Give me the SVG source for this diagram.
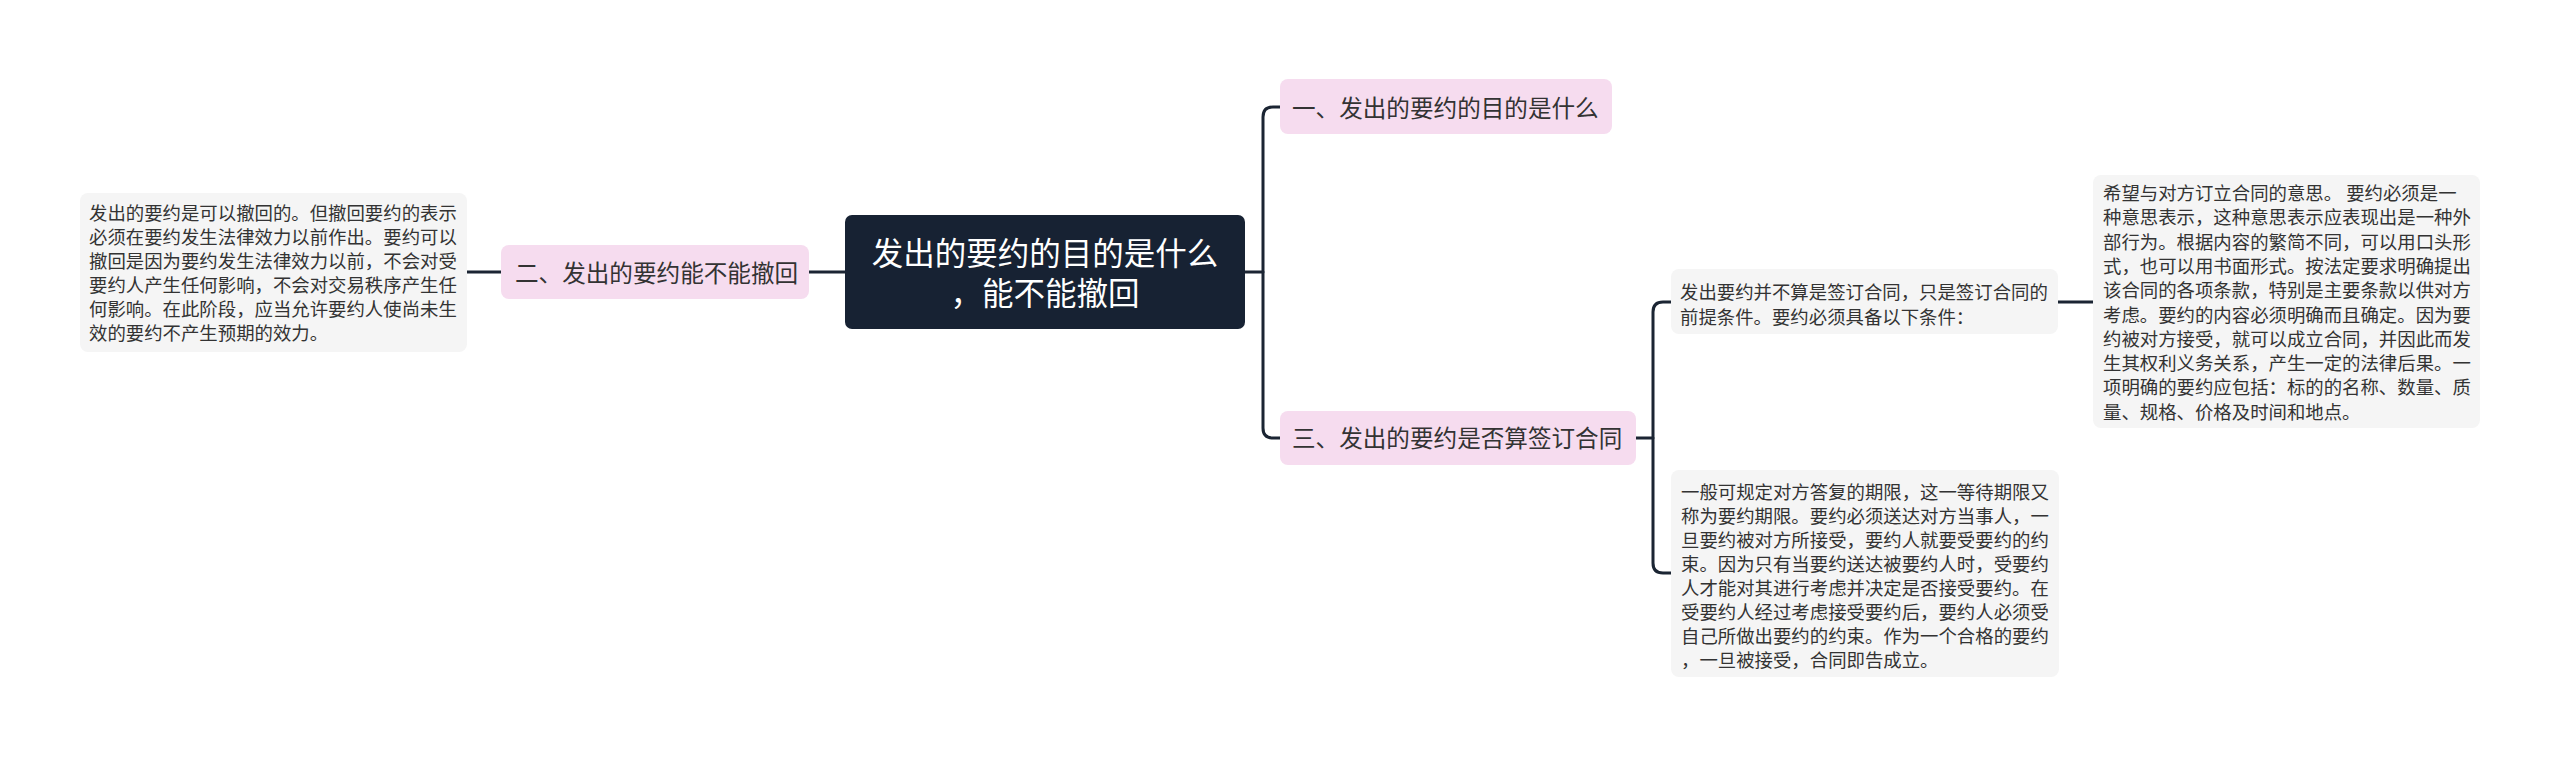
<svg xmlns="http://www.w3.org/2000/svg" width="2560" height="757" viewBox="0 0 2560 757">
<style>
.conn{fill:none;stroke:#1b2533;stroke-width:3;stroke-linecap:round}
.pink{fill:#f6dcef}
.leaf{fill:#f5f5f5}
.root{fill:#172233}
.t{font-family:"Noto Sans CJK SC","Noto Sans",sans-serif;fill:#333}
.pt{font-size:23.6px}
.lt{font-size:18.4px}
.rt{font-size:31.5px;fill:#ffffff}
</style>
<rect width="2560" height="757" fill="#ffffff"/>
<g id="connectors">
<path class="conn" d="M1245,272 H1263"/>
<path class="conn" d="M1280,107 H1273 Q1263,107 1263,117 V428 Q1263,438 1273,438 H1280"/>
<path class="conn" d="M845,272 H809"/>
<path class="conn" d="M501,272 H467"/>
<path class="conn" d="M1636,438 H1653"/>
<path class="conn" d="M1671,302 H1663 Q1653,302 1653,312 V563 Q1653,573 1663,573 H1671"/>
<path class="conn" d="M2058,302 H2093"/>
</g>
<g id="root">
<rect class="root" x="845" y="215" width="400" height="114" rx="7"/>
<text class="t rt" text-anchor="middle"><tspan x="1045" y="265">发出的要约的目的是什么</tspan><tspan x="1045" y="305">，能不能撤回</tspan></text>
</g>
<g id="n1">
<rect class="pink" x="1280" y="79" width="332" height="55" rx="8"/>
<text class="t pt" x="1292" y="117">一、发出的要约的目的是什么</text>
</g>
<g id="n2">
<rect class="pink" x="501" y="245" width="308" height="54" rx="8"/>
<text class="t pt" x="515" y="282">二、发出的要约能不能撤回</text>
</g>
<g id="n3">
<rect class="pink" x="1280" y="411" width="356" height="54" rx="8"/>
<text class="t pt" x="1292" y="447">三、发出的要约是否算签订合同</text>
</g>
<g id="leaf-left">
<rect class="leaf" x="80" y="193" width="387" height="159" rx="8"/>
<text class="t lt"><tspan x="89" y="220">发出的要约是可以撤回的。但撤回要约的表示</tspan><tspan x="89" y="244">必须在要约发生法律效力以前作出。要约可以</tspan><tspan x="89" y="268">撤回是因为要约发生法律效力以前，不会对受</tspan><tspan x="89" y="292">要约人产生任何影响，不会对交易秩序产生任</tspan><tspan x="89" y="316">何影响。在此阶段，应当允许要约人使尚未生</tspan><tspan x="89" y="340">效的要约不产生预期的效力。</tspan></text>
</g>
<g id="leaf-1">
<rect class="leaf" x="1671" y="269" width="387" height="65" rx="8"/>
<text class="t lt"><tspan x="1680" y="299">发出要约并不算是签订合同，只是签订合同的</tspan><tspan x="1680" y="324">前提条件。要约必须具备以下条件：</tspan></text>
</g>
<g id="leaf-1a">
<rect class="leaf" x="2093" y="175" width="387" height="253" rx="8"/>
<text class="t lt"><tspan x="2103" y="200">希望与对方订立合同的意思。 要约必须是一</tspan><tspan x="2103" y="224.3">种意思表示，这种意思表示应表现出是一种外</tspan><tspan x="2103" y="248.6">部行为。根据内容的繁简不同，可以用口头形</tspan><tspan x="2103" y="272.9">式，也可以用书面形式。按法定要求明确提出</tspan><tspan x="2103" y="297.2">该合同的各项条款，特别是主要条款以供对方</tspan><tspan x="2103" y="321.5">考虑。要约的内容必须明确而且确定。因为要</tspan><tspan x="2103" y="345.8">约被对方接受，就可以成立合同，并因此而发</tspan><tspan x="2103" y="370.1">生其权利义务关系，产生一定的法律后果。一</tspan><tspan x="2103" y="394.4">项明确的要约应包括：标的的名称、数量、质</tspan><tspan x="2103" y="418.7">量、规格、价格及时间和地点。</tspan></text>
</g>
<g id="leaf-2">
<rect class="leaf" x="1671" y="470" width="388" height="207" rx="8"/>
<text class="t lt"><tspan x="1681" y="499">一般可规定对方答复的期限，这一等待期限又</tspan><tspan x="1681" y="523">称为要约期限。要约必须送达对方当事人，一</tspan><tspan x="1681" y="547">旦要约被对方所接受，要约人就要受要约的约</tspan><tspan x="1681" y="571">束。因为只有当要约送达被要约人时，受要约</tspan><tspan x="1681" y="595">人才能对其进行考虑并决定是否接受要约。在</tspan><tspan x="1681" y="619">受要约人经过考虑接受要约后，要约人必须受</tspan><tspan x="1681" y="643">自己所做出要约的约束。作为一个合格的要约</tspan><tspan x="1681" y="667">，一旦被接受，合同即告成立。</tspan></text>
</g>
</svg>
